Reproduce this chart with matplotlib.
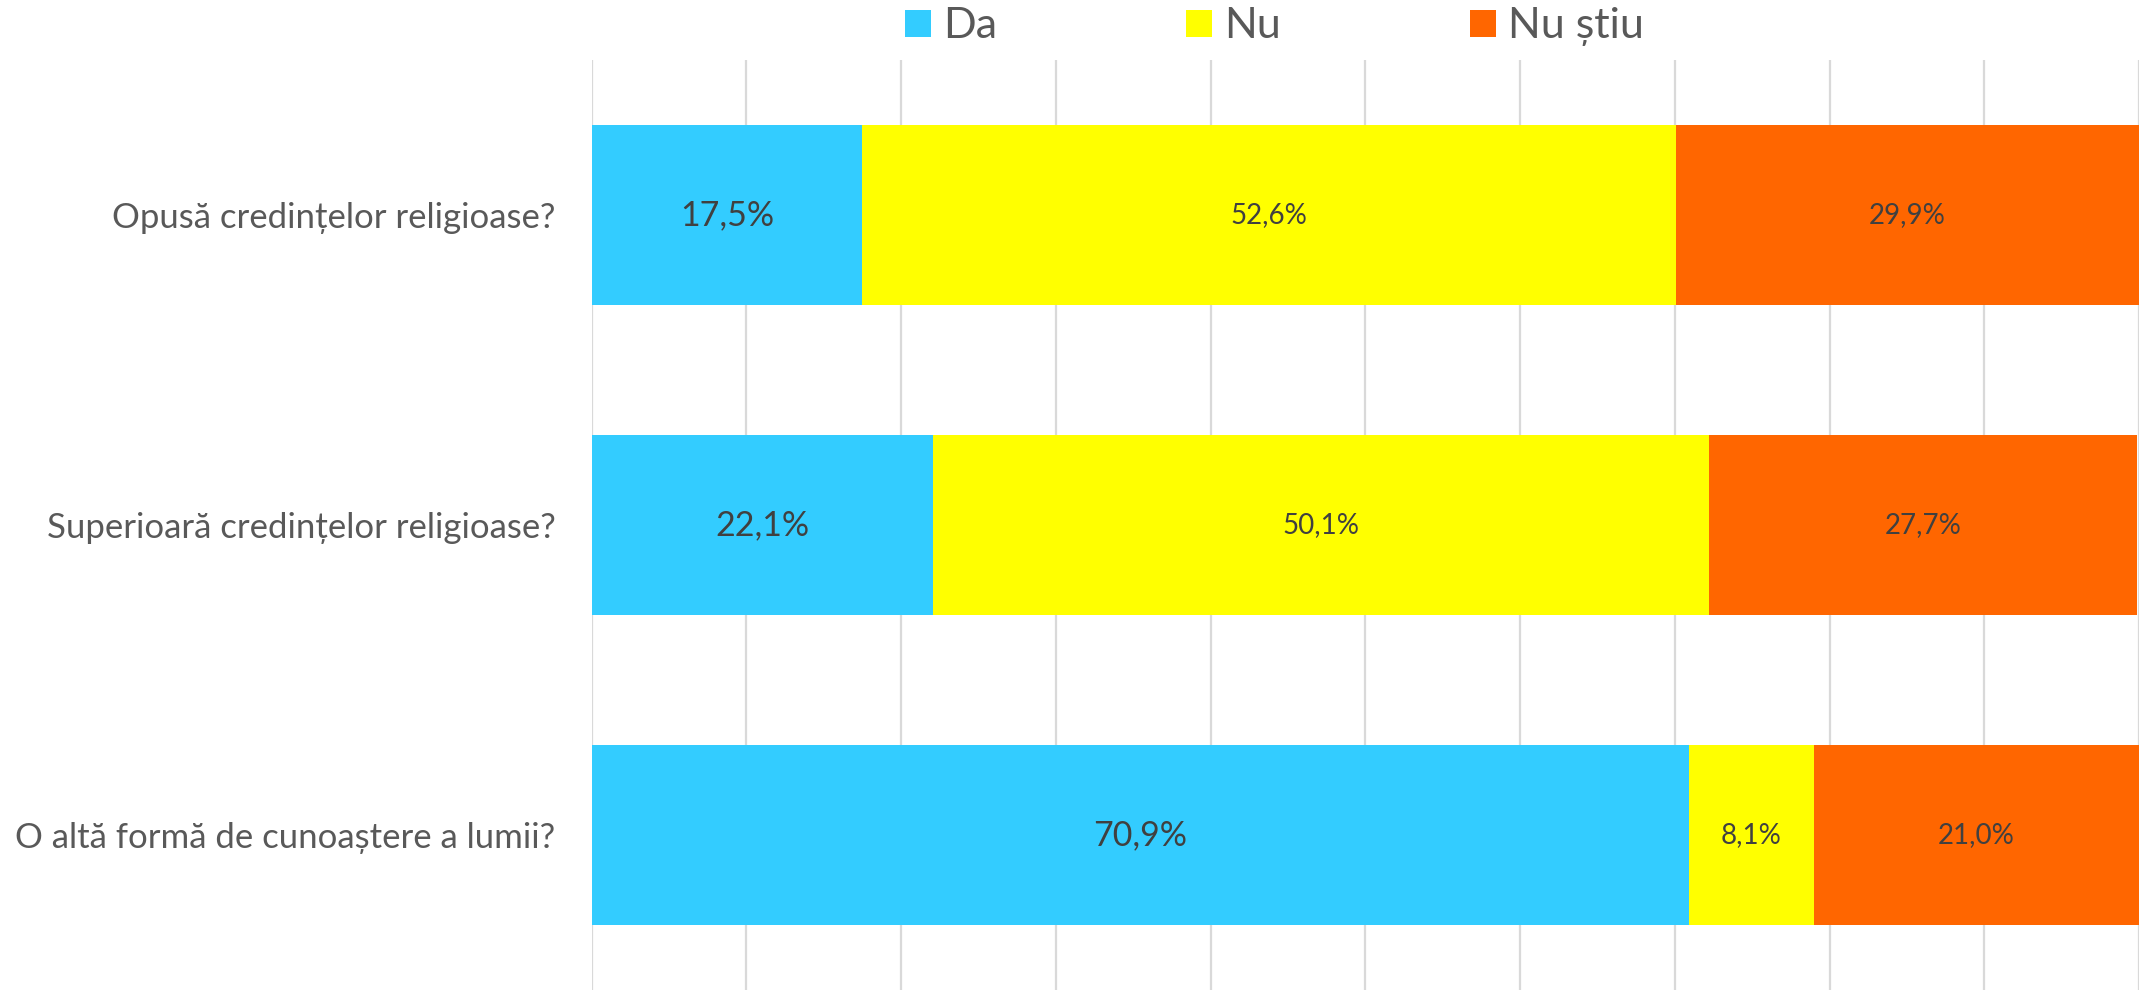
import matplotlib
matplotlib.use("Agg")
import matplotlib.pyplot as plt
from matplotlib.patches import Patch
import numpy as np

plt.rcParams['font.family'] = ['Lato', 'DejaVu Sans']

categories = [
    "Opusă credințelor religioase?",
    "Superioară credințelor religioase?",
    "O altă formă de cunoaștere a lumii?",
]
series_names = ["Da", "Nu", "Nu știu"]
da = [17.5, 22.1, 70.9]
nu = [52.6, 50.1, 8.1]
nu_stiu = [29.9, 27.7, 21.0]
colors = ["#33CCFF", "#FFFF00", "#FF6600"]
label_sizes = [24.5, 20, 20]

fig = plt.figure(figsize=(21.47, 9.9), dpi=100)
ax = fig.add_axes([591.5 / 2147, 0.0, (2139 - 591.5) / 2147, 1 - 60 / 990])

y = np.arange(len(categories))
left = np.zeros(len(categories))
for name, vals, col, fs in zip(series_names, [da, nu, nu_stiu], colors, label_sizes):
    vals = np.array(vals)
    bars = ax.barh(y, vals, left=left, height=0.58, color=col, label=name, zorder=3)
    for b, v in zip(bars, vals):
        ax.text(b.get_x() + b.get_width() / 2, b.get_y() + b.get_height() / 2,
                f"{v:.1f}%".replace(".", ","), ha="center", va="center",
                fontsize=fs, color="#404040", zorder=4)
    left += vals

ax.set_xlim(0, 100)
ax.set_ylim(2.5, -0.5)
ax.set_xticks(np.arange(0, 101, 10))
ax.set_yticks(y)
ax.set_yticklabels(categories, fontsize=25, color="#595959")
ax.tick_params(axis="both", length=0, pad=26)
ax.tick_params(axis="x", labelbottom=False)
ax.grid(axis="x", color="#D9D9D9", linewidth=1.6, zorder=0)
for s in ax.spines.values():
    s.set_visible(False)

handles = [Patch(facecolor=c, edgecolor="none") for c in colors]
fig.legend(handles, series_names, loc="center left", bbox_to_anchor=(905 / 2147, 1 - 27 / 990),
           ncol=3, frameon=False, fontsize=31, labelcolor="#595959",
           borderpad=0, borderaxespad=0,
           handlelength=0.6, handleheight=0.6, handletextpad=0.28, columnspacing=4.4)

fig.savefig("out.png", dpi=100)
